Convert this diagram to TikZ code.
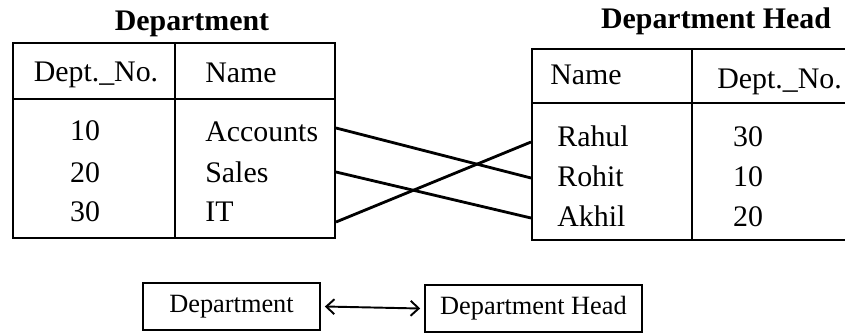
\documentclass[tikz,border=0pt]{standalone}
\usepackage{fontspec}
\setmainfont{Liberation Serif}
\usetikzlibrary{arrows.meta,positioning}

\begin{document}
\begin{tikzpicture}[
  x=0.02cm,y=-0.02cm,
  font=\fontsize{17}{20}\selectfont,
  title/.style={font=\fontsize{17}{20}\selectfont\bfseries, anchor=base},
  tbl/.style={draw, line width=1.6pt, inner sep=0pt},
  rule/.style={line width=1.6pt},
  cell/.style={anchor=base west, inner sep=0pt},
  num/.style={anchor=base, inner sep=0pt},
  box/.style={draw, line width=1.6pt, inner sep=0pt, minimum height=0.94cm, font=\fontsize{15}{18}\selectfont},
  link/.style={line width=1.6pt},
  arr/.style={{Straight Barb[length=1.6mm,width=3mm]}-{Straight Barb[length=1.6mm,width=3mm]}, line width=1.1pt}
]
  \useasboundingbox (0,0) rectangle (845,335);

  % Department table
  \node[title] (t1) at (192,30) {Department};
  \node[tbl, minimum width=6.44cm, minimum height=3.9cm] (dept) at (174,140.5) {};
  \draw[rule] (13,99) -- (335,99);
  \draw[rule] (175,43) -- (175,238);
  \node[num] (h1) at (96,81) {Dept.\_No.};
  \node[cell] (h2) at (205,82) {Name};
  \node[num] (n10) at (85,140) {10};
  \node[num] (n20) at (85,182) {20};
  \node[num] (n30) at (85,221) {30};
  \node[cell] (acc) at (205,141) {Accounts};
  \node[cell] (sal) at (205,182) {Sales};
  \node[cell] (it) at (205,221) {IT};

  % Department Head table
  \node[title] (t2) at (716,28) {Department Head};
  \node[tbl, minimum width=6.36cm, minimum height=3.82cm] (head) at (691,144.5) {};
  \draw[rule] (532,103) -- (850,103);
  \draw[rule] (692,49) -- (692,240);
  \node[cell] (h3) at (550,84) {Name};
  \node[cell] (h4) at (717,88) {Dept.\_No.};
  \node[cell] (rah) at (557,146) {Rahul};
  \node[cell] (roh) at (557,186) {Rohit};
  \node[cell] (akh) at (557,226) {Akhil};
  \node[num] (m30) at (748,146) {30};
  \node[num] (m10) at (748,186) {10};
  \node[num] (m20) at (748,226) {20};

  % links
  \coordinate (pAcc) at (336,128);
  \coordinate (pSal) at (336,172);
  \coordinate (pIT) at (336,222);
  \coordinate (pRah) at (531,142);
  \coordinate (pRoh) at (531,178);
  \coordinate (pAkh) at (531,218);
  \draw[link] (pAcc) -- (pRoh);
  \draw[link] (pSal) -- (pAkh);
  \draw[link] (pIT) -- (pRah);

  % relation
  \node[box, minimum width=3.54cm] (db) at (231.5,306.5) {Department};
  \node[box, minimum width=4.34cm] (dh) at (533.5,308.5) {Department Head};
  \draw[arr] ([xshift=2pt]db.east) -- ([xshift=-2pt]dh.west);
\end{tikzpicture}
\end{document}
